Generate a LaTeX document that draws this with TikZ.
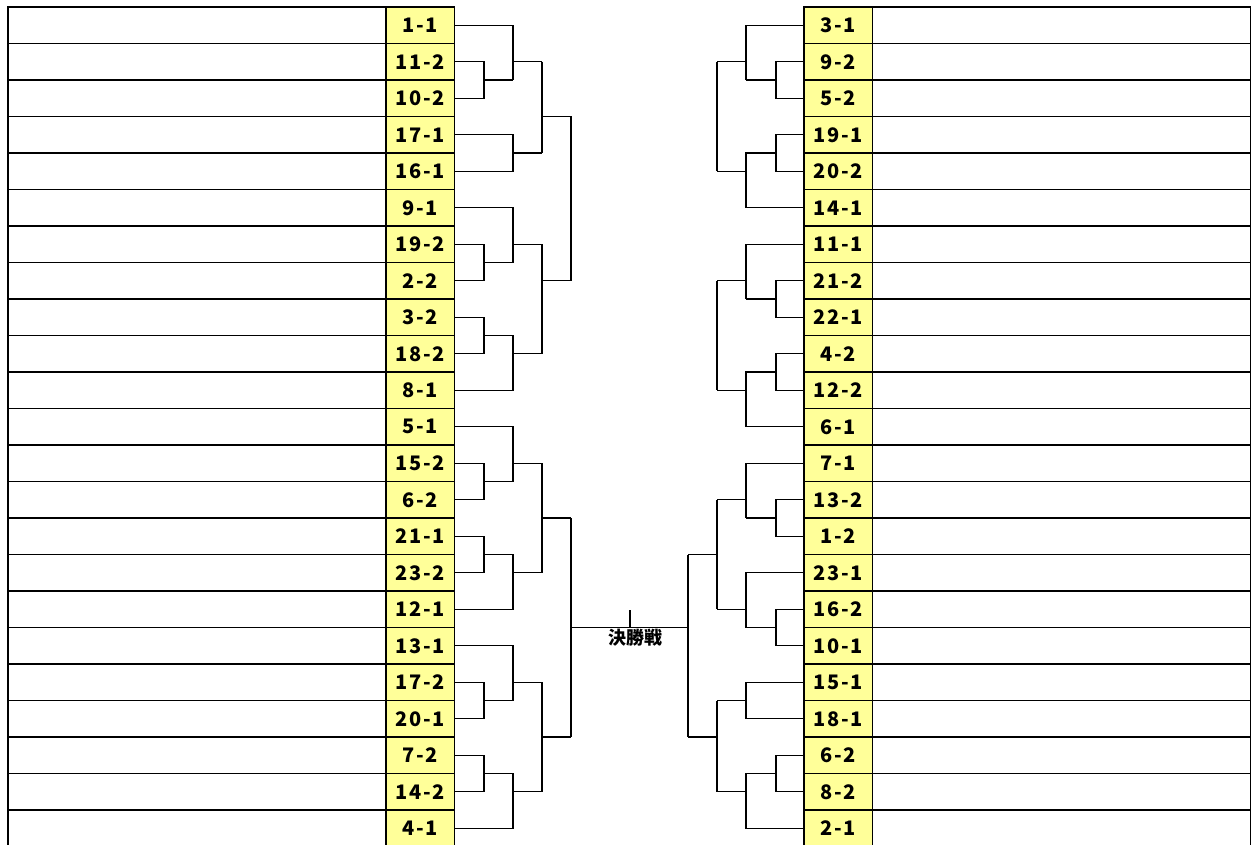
\documentclass[tikz,border=0pt]{standalone}
\usepackage{fontspec}
\newfontfamily\jpfont{Noto Sans CJK JP}
\newfontfamily\jpcode{Noto Sans CJK JP}[LetterSpace=9]
\usetikzlibrary{positioning}
\definecolor{codeyellow}{RGB}{255,255,153}

\begin{document}
\begin{tikzpicture}[x=1pt, y=-1pt,
    node distance=0pt,
    namebox/.style={draw, line width=1.4pt, minimum width=378pt, minimum height=36.5pt, inner sep=0pt, outer sep=0pt},
    codebox/.style={draw, line width=1.4pt, fill=codeyellow, minimum width=68.5pt, minimum height=36.5pt, inner sep=0pt, outer sep=0pt, font=\jpcode\bfseries\fontsize{20}{20}\selectfont},
    br/.style={line width=1.1pt},
    finlbl/.style={inner sep=0pt, font=\jpfont\bfseries\fontsize{18}{18}\selectfont}
]
\useasboundingbox (0,0) rectangle (1252,845);

% bracket columns
\coordinate (lx1) at (484,0);
\coordinate (lx2) at (513,0);
\coordinate (lx3) at (542,0);
\coordinate (lx4) at (571,0);
\coordinate (rx1) at (776,0);
\coordinate (rx2) at (746,0);
\coordinate (rx3) at (717,0);
\coordinate (rx4) at (688,0);

% left table
\node[namebox, anchor=north west] (ln1) at (8,7) {};
\node[codebox, right=of ln1] (lc1) {1-1};
\node[namebox, below=of ln1] (ln2) {};  \node[codebox, right=of ln2] (lc2) {11-2};
\node[namebox, below=of ln2] (ln3) {};  \node[codebox, right=of ln3] (lc3) {10-2};
\node[namebox, below=of ln3] (ln4) {};  \node[codebox, right=of ln4] (lc4) {17-1};
\node[namebox, below=of ln4] (ln5) {};  \node[codebox, right=of ln5] (lc5) {16-1};
\node[namebox, below=of ln5] (ln6) {};  \node[codebox, right=of ln6] (lc6) {9-1};
\node[namebox, below=of ln6] (ln7) {};  \node[codebox, right=of ln7] (lc7) {19-2};
\node[namebox, below=of ln7] (ln8) {};  \node[codebox, right=of ln8] (lc8) {2-2};
\node[namebox, below=of ln8] (ln9) {};  \node[codebox, right=of ln9] (lc9) {3-2};
\node[namebox, below=of ln9] (ln10) {}; \node[codebox, right=of ln10] (lc10) {18-2};
\node[namebox, below=of ln10] (ln11) {}; \node[codebox, right=of ln11] (lc11) {8-1};
\node[namebox, below=of ln11] (ln12) {}; \node[codebox, right=of ln12] (lc12) {5-1};
\node[namebox, below=of ln12] (ln13) {}; \node[codebox, right=of ln13] (lc13) {15-2};
\node[namebox, below=of ln13] (ln14) {}; \node[codebox, right=of ln14] (lc14) {6-2};
\node[namebox, below=of ln14] (ln15) {}; \node[codebox, right=of ln15] (lc15) {21-1};
\node[namebox, below=of ln15] (ln16) {}; \node[codebox, right=of ln16] (lc16) {23-2};
\node[namebox, below=of ln16] (ln17) {}; \node[codebox, right=of ln17] (lc17) {12-1};
\node[namebox, below=of ln17] (ln18) {}; \node[codebox, right=of ln18] (lc18) {13-1};
\node[namebox, below=of ln18] (ln19) {}; \node[codebox, right=of ln19] (lc19) {17-2};
\node[namebox, below=of ln19] (ln20) {}; \node[codebox, right=of ln20] (lc20) {20-1};
\node[namebox, below=of ln20] (ln21) {}; \node[codebox, right=of ln21] (lc21) {7-2};
\node[namebox, below=of ln21] (ln22) {}; \node[codebox, right=of ln22] (lc22) {14-2};
\node[namebox, below=of ln22] (ln23) {}; \node[codebox, right=of ln23] (lc23) {4-1};

% right table
\node[codebox, anchor=north west] (rc1) at (804,7) {3-1};
\node[namebox, right=of rc1] (rn1) {};
\node[codebox, below=of rc1] (rc2) {9-2};   \node[namebox, right=of rc2] (rn2) {};
\node[codebox, below=of rc2] (rc3) {5-2};   \node[namebox, right=of rc3] (rn3) {};
\node[codebox, below=of rc3] (rc4) {19-1};  \node[namebox, right=of rc4] (rn4) {};
\node[codebox, below=of rc4] (rc5) {20-2};  \node[namebox, right=of rc5] (rn5) {};
\node[codebox, below=of rc5] (rc6) {14-1};  \node[namebox, right=of rc6] (rn6) {};
\node[codebox, below=of rc6] (rc7) {11-1};  \node[namebox, right=of rc7] (rn7) {};
\node[codebox, below=of rc7] (rc8) {21-2};  \node[namebox, right=of rc8] (rn8) {};
\node[codebox, below=of rc8] (rc9) {22-1};  \node[namebox, right=of rc9] (rn9) {};
\node[codebox, below=of rc9] (rc10) {4-2};  \node[namebox, right=of rc10] (rn10) {};
\node[codebox, below=of rc10] (rc11) {12-2}; \node[namebox, right=of rc11] (rn11) {};
\node[codebox, below=of rc11] (rc12) {6-1};  \node[namebox, right=of rc12] (rn12) {};
\node[codebox, below=of rc12] (rc13) {7-1};  \node[namebox, right=of rc13] (rn13) {};
\node[codebox, below=of rc13] (rc14) {13-2}; \node[namebox, right=of rc14] (rn14) {};
\node[codebox, below=of rc14] (rc15) {1-2};  \node[namebox, right=of rc15] (rn15) {};
\node[codebox, below=of rc15] (rc16) {23-1}; \node[namebox, right=of rc16] (rn16) {};
\node[codebox, below=of rc16] (rc17) {16-2}; \node[namebox, right=of rc17] (rn17) {};
\node[codebox, below=of rc17] (rc18) {10-1}; \node[namebox, right=of rc18] (rn18) {};
\node[codebox, below=of rc18] (rc19) {15-1}; \node[namebox, right=of rc19] (rn19) {};
\node[codebox, below=of rc19] (rc20) {18-1}; \node[namebox, right=of rc20] (rn20) {};
\node[codebox, below=of rc20] (rc21) {6-2};  \node[namebox, right=of rc21] (rn21) {};
\node[codebox, below=of rc21] (rc22) {8-2};  \node[namebox, right=of rc22] (rn22) {};
\node[codebox, below=of rc22] (rc23) {2-1};  \node[namebox, right=of rc23] (rn23) {};

% left bracket, rows 1-11
\draw[br] (lc2.east) -| (lc2.south -| lx1) |- (lc3.east);
\draw[br] (lc2.south -| lx1) -- (lc2.south -| lx2);
\draw[br] (lc1.east) -| (lc2.south -| lx2);
\draw[br] (lc2 -| lx2) -- (lc2 -| lx3);
\draw[br] (lc4.east) -| (lc4.south -| lx2) |- (lc5.east);
\draw[br] (lc4.south -| lx2) -- (lc4.south -| lx3);
\draw[br] (lc2 -| lx3) -- (lc4.south -| lx3);
\draw[br] (lc3.south -| lx3) -- (lc3.south -| lx4);
\draw[br] (lc7.east) -| (lc7.south -| lx1) |- (lc8.east);
\draw[br] (lc7.south -| lx1) -- (lc7.south -| lx2);
\draw[br] (lc6.east) -| (lc7.south -| lx2);
\draw[br] (lc7 -| lx2) -- (lc7 -| lx3);
\draw[br] (lc9.east) -| (lc9.south -| lx1) |- (lc10.east);
\draw[br] (lc9.south -| lx1) -- (lc9.south -| lx2) |- (lc11.east);
\draw[br] (lc10 -| lx2) -- (lc10 -| lx3);
\draw[br] (lc7 -| lx3) -- (lc10 -| lx3);
\draw[br] (lc8 -| lx3) -- (lc8 -| lx4);
\draw[br] (lc3.south -| lx4) -- (lc8 -| lx4);

% left bracket, rows 12-23
\draw[br] (lc13.east) -| (lc13.south -| lx1) |- (lc14.east);
\draw[br] (lc13.south -| lx1) -- (lc13.south -| lx2);
\draw[br] (lc12.east) -| (lc13.south -| lx2);
\draw[br] (lc13 -| lx2) -- (lc13 -| lx3);
\draw[br] (lc15.east) -| (lc15.south -| lx1) |- (lc16.east);
\draw[br] (lc15.south -| lx1) -- (lc15.south -| lx2) |- (lc17.east);
\draw[br] (lc16 -| lx2) -- (lc16 -| lx3);
\draw[br] (lc13 -| lx3) -- (lc16 -| lx3);
\draw[br] (lc14.south -| lx3) -- (lc14.south -| lx4);
\draw[br] (lc19.east) -| (lc19.south -| lx1) |- (lc20.east);
\draw[br] (lc19.south -| lx1) -- (lc19.south -| lx2);
\draw[br] (lc18.east) -| (lc19.south -| lx2);
\draw[br] (lc19 -| lx2) -- (lc19 -| lx3);
\draw[br] (lc21.east) -| (lc21.south -| lx1) |- (lc22.east);
\draw[br] (lc21.south -| lx1) -- (lc21.south -| lx2) |- (lc23.east);
\draw[br] (lc22 -| lx2) -- (lc22 -| lx3);
\draw[br] (lc19 -| lx3) -- (lc22 -| lx3);
\draw[br] (lc20.south -| lx3) -- (lc20.south -| lx4);
\draw[br] (lc14.south -| lx4) -- (lc20.south -| lx4);

% right bracket, rows 1-12
\draw[br] (rc2.west) -| (rc2.south -| rx1) |- (rc3.west);
\draw[br] (rc2.south -| rx1) -- (rc2.south -| rx2);
\draw[br] (rc1.west) -| (rc2.south -| rx2);
\draw[br] (rc2 -| rx2) -- (rc2 -| rx3);
\draw[br] (rc4.west) -| (rc4.south -| rx1) |- (rc5.west);
\draw[br] (rc4.south -| rx1) -- (rc4.south -| rx2) |- (rc6.west);
\draw[br] (rc5 -| rx2) -- (rc5 -| rx3);
\draw[br] (rc2 -| rx3) -- (rc5 -| rx3);
\draw[br] (rc8.west) -| (rc8.south -| rx1) |- (rc9.west);
\draw[br] (rc8.south -| rx1) -- (rc8.south -| rx2);
\draw[br] (rc7.west) -| (rc8.south -| rx2);
\draw[br] (rc8 -| rx2) -- (rc8 -| rx3);
\draw[br] (rc10.west) -| (rc10.south -| rx1) |- (rc11.west);
\draw[br] (rc10.south -| rx1) -- (rc10.south -| rx2) |- (rc12.west);
\draw[br] (rc11 -| rx2) -- (rc11 -| rx3);
\draw[br] (rc8 -| rx3) -- (rc11 -| rx3);

% right bracket, rows 13-23
\draw[br] (rc14.west) -| (rc14.south -| rx1) |- (rc15.west);
\draw[br] (rc14.south -| rx1) -- (rc14.south -| rx2);
\draw[br] (rc13.west) -| (rc14.south -| rx2);
\draw[br] (rc14 -| rx2) -- (rc14 -| rx3);
\draw[br] (rc17.west) -| (rc17.south -| rx1) |- (rc18.west);
\draw[br] (rc17.south -| rx1) -- (rc17.south -| rx2);
\draw[br] (rc16.west) -| (rc17.south -| rx2);
\draw[br] (rc17 -| rx2) -- (rc17 -| rx3);
\draw[br] (rc14 -| rx3) -- (rc17 -| rx3);
\draw[br] (rc15.south -| rx3) -- (rc15.south -| rx4);
\draw[br] (rc19.west) -| (rc19.south -| rx2) |- (rc20.west);
\draw[br] (rc19.south -| rx2) -- (rc19.south -| rx3);
\draw[br] (rc21.west) -| (rc21.south -| rx1) |- (rc22.west);
\draw[br] (rc21.south -| rx1) -- (rc21.south -| rx2) |- (rc23.west);
\draw[br] (rc22 -| rx2) -- (rc22 -| rx3);
\draw[br] (rc19.south -| rx3) -- (rc22 -| rx3);
\draw[br] (rc20.south -| rx3) -- (rc20.south -| rx4);
\draw[br] (rc15.south -| rx4) -- (rc20.south -| rx4);

% final
\draw[br] (lc17.south -| lx4) -- (lc17.south -| rx4);
\coordinate (tick) at (630,610);
\draw[br] (tick) -- (tick |- lc17.south);
\node[finlbl] (final) at (635,638) {決勝戦};
\end{tikzpicture}
\end{document}
